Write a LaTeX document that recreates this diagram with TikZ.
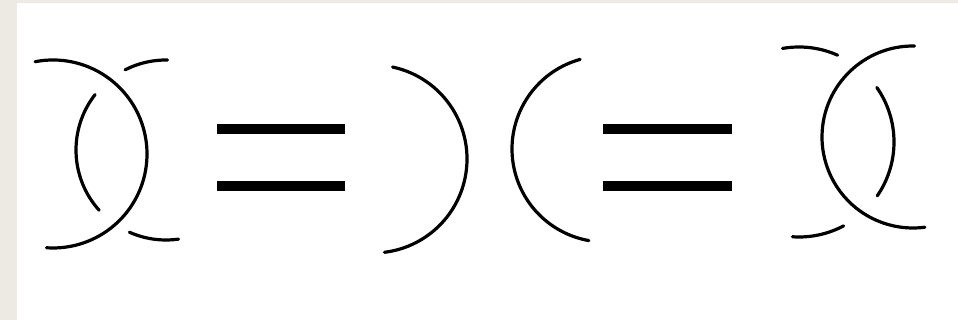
\documentclass[tikz,border=0pt]{standalone}
\definecolor{beige}{HTML}{EDEAE3}
\tikzset{
  strand/.style={line width=3.2pt, line cap=round, black},
  bar/.style={fill=black, draw=none}
}
\begin{document}
\begin{tikzpicture}[x=1pt,y=1pt]
\useasboundingbox (0,0) rectangle (958,320);
\fill[beige] (0,0) rectangle (958,320);
\fill[white] (17,0) rectangle (958,317);
% panel 1: ")" over
\draw[strand] ([shift={(101:94)}]53,166) arc[start angle=101,end angle=-94,radius=94];
% panel 1: "(" in three pieces
\draw[strand] ([shift={(89:90)}]166,170) arc[start angle=89,end angle=117,radius=90];
\draw[strand] ([shift={(142:90)}]166,170) arc[start angle=142,end angle=222,radius=90];
\draw[strand] ([shift={(246:90)}]166,170) arc[start angle=246,end angle=278,radius=90];
% equals 1
\fill[bar] (217,186) rectangle (345,196);
\fill[bar] (217,129) rectangle (345,139);
% panel 2
\draw[strand] ([shift={(78:94)}]373,161) arc[start angle=78,end angle=-83,radius=94];
\draw[strand] ([shift={(105.5:93)}]605,171) arc[start angle=105.5,end angle=260,radius=93];
% equals 2
\fill[bar] (603,186) rectangle (732,196);
\fill[bar] (603,129) rectangle (732,139);
% panel 3: "(" over
\draw[strand] ([shift={(89:91)}]913,183) arc[start angle=89,end angle=277.5,radius=91];
% panel 3: ")" in three pieces
\draw[strand] ([shift={(100:95)}]799,178) arc[start angle=100,end angle=66,radius=95];
\draw[strand] ([shift={(35:95)}]799,178) arc[start angle=35,end angle=-34.5,radius=95];
\draw[strand] ([shift={(-62:95)}]799,178) arc[start angle=-62,end angle=-94,radius=95];
\end{tikzpicture}
\end{document}
